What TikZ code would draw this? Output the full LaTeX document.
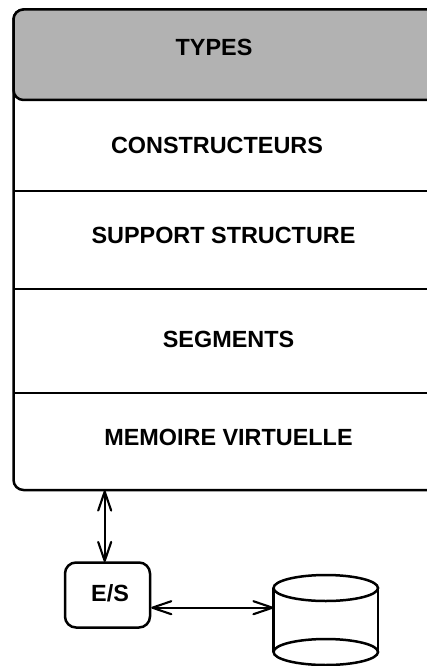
\documentclass[tikz,border=0pt]{standalone}
\usepackage{fontspec}
\setmainfont{Liberation Sans}
\usetikzlibrary{arrows.meta}
\begin{document}
\begin{tikzpicture}[x=1pt,y=-1pt,
  ln/.style={line width=2.5pt,black},
  lbl/.style={font=\fontsize{23.4}{26}\selectfont\bfseries,inner sep=0pt,anchor=center},
  dbl/.style={line width=2.2pt,black,{Straight Barb[length=19pt,width=13pt,line width=2.1pt,round]}-{Straight Barb[length=19pt,width=13pt,line width=2.1pt,round]}}]
\useasboundingbox (0,0) rectangle (427,666);
\begin{scope}
\clip (0,0) rectangle (427,666);
\filldraw[ln,fill=white,rounded corners=10pt] (13.5,9.5) rectangle (440,490);
\filldraw[ln,fill=black!30,rounded corners=10pt] (13.5,9.5) rectangle (440,100);
\draw[ln] (13.5,191) -- (427,191);
\draw[ln] (13.5,289) -- (427,289);
\draw[ln] (13.5,393) -- (427,393);
\end{scope}
\node[lbl] (types) at (214,47.7) {TYPES};
\node[lbl] (cons) at (217,145.7) {CONSTRUCTEURS};
\node[lbl] (supp) at (223.5,235.7) {SUPPORT STRUCTURE};
\node[lbl] (seg) at (228.5,339.7) {SEGMENTS};
\node[lbl] (mem) at (228.5,437.7) {MEMOIRE VIRTUELLE};
\coordinate (top) at (104.7,490.5);
\node[draw,ln,rounded corners=11pt,minimum width=85pt,minimum height=65pt,inner sep=0pt] (es) at (107.5,595) {};
\node[lbl] (eslabel) at (110,593.7) {E/S};
\coordinate (esin) at (104.7,562);
\draw[dbl] (top) -- (esin);
\coordinate (disk) at (273.5,607.7);
\draw[dbl] (es.east |- disk) -- (disk);
% cylinder
\draw[ln] (273.5,588) -- (273.5,652);
\draw[ln] (378,588) -- (378,652);
\draw[ln] (325.75,588) ellipse (52.25pt and 13pt);
\draw[ln] (325.75,652) ellipse (52.25pt and 13pt);
\end{tikzpicture}
\end{document}
